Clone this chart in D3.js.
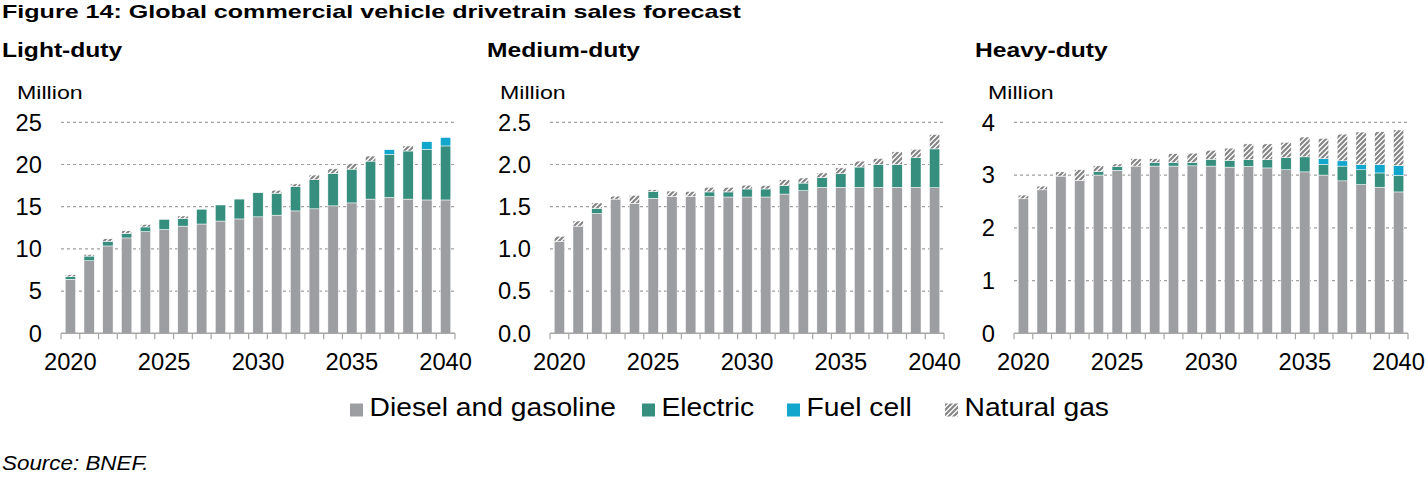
<!DOCTYPE html>
<html>
<head>
<meta charset="utf-8">
<script src="https://cdn.jsdelivr.net/npm/d3@7"></script>
<style>
  body { margin: 0; background: #fff; }
  text { font-family: "Liberation Sans", Arial, sans-serif; fill: #000; }
</style>
</head>
<body>
<div id="chart"></div>
<script>
// Years on the x axis
const years = d3.range(2020, 2041);
const tickYears = [2020, 2025, 2030, 2035, 2040];

// Light-duty (million)
const lightDiesel   = [6.4, 8.6, 10.35, 11.3, 12.05, 12.3, 12.7, 12.95, 13.3, 13.55, 13.8, 14.0, 14.5, 14.75, 15.1, 15.45, 15.9, 16.1, 15.9, 15.8, 15.8];
const lightElectric = [0.3, 0.55, 0.55, 0.55, 0.55, 1.2, 0.9, 1.75, 1.9, 2.35, 2.85, 2.6, 2.9, 3.45, 3.85, 4.0, 4.5, 5.1, 5.7, 6.0, 6.4];
const lightFuelCell = [0, 0, 0, 0, 0, 0, 0, 0, 0, 0, 0, 0, 0, 0, 0, 0, 0, 0.55, 0, 0.9, 1.0];
const lightGas      = [0.25, 0.2, 0.3, 0.3, 0.3, 0, 0.3, 0, 0, 0, 0, 0.35, 0.3, 0.55, 0.55, 0.65, 0.6, 0, 0.6, 0, 0];

// Medium-duty (million)
const mediumDiesel   = [1.09, 1.27, 1.42, 1.59, 1.54, 1.6, 1.62, 1.62, 1.62, 1.615, 1.615, 1.615, 1.65, 1.69, 1.73, 1.73, 1.73, 1.73, 1.73, 1.73, 1.725];
const mediumElectric = [0, 0, 0.06, 0, 0, 0.08, 0, 0, 0.055, 0.06, 0.095, 0.095, 0.1, 0.09, 0.115, 0.16, 0.24, 0.27, 0.27, 0.35, 0.46];
const mediumFuelCell = [0, 0, 0, 0, 0, 0, 0, 0, 0, 0, 0, 0, 0, 0, 0, 0, 0, 0, 0, 0, 0];
const mediumGas      = [0.06, 0.06, 0.065, 0.035, 0.095, 0.02, 0.065, 0.06, 0.055, 0.055, 0.045, 0.04, 0.07, 0.06, 0.055, 0.07, 0.07, 0.07, 0.15, 0.1, 0.17];

// Heavy-duty (million)
const heavyDiesel   = [2.55, 2.72, 2.98, 2.9, 3.0, 3.09, 3.17, 3.17, 3.17, 3.175, 3.17, 3.15, 3.165, 3.135, 3.1, 3.06, 3.0, 2.89, 2.82, 2.77, 2.68];
const heavyElectric = [0, 0, 0, 0, 0.065, 0.07, 0, 0.07, 0.07, 0.065, 0.13, 0.13, 0.125, 0.155, 0.23, 0.285, 0.205, 0.28, 0.28, 0.27, 0.315];
const heavyFuelCell = [0, 0, 0, 0, 0, 0, 0, 0, 0, 0, 0, 0, 0, 0, 0, 0, 0.105, 0.1, 0.095, 0.16, 0.185];
const heavyGas      = [0.07, 0.07, 0.08, 0.2, 0.11, 0.05, 0.14, 0.07, 0.165, 0.175, 0.17, 0.23, 0.3, 0.3, 0.29, 0.375, 0.385, 0.505, 0.62, 0.62, 0.675];

// Series, bottom to top
const seriesKeys = ["diesel", "electric", "fuelCell", "gas"];
const seriesLabels = ["Diesel and gasoline", "Electric", "Fuel cell", "Natural gas"];
const seriesColors = {
  diesel: "#9d9ea2",
  electric: "#358e7e",
  fuelCell: "#12a6cc",
  gas: "url(#hatch)"
};

const panels = [
  { title: "Light-duty", max: 25, ticks: [0, 5, 10, 15, 20, 25], fmt: d3.format("d"),
    series: [lightDiesel, lightElectric, lightFuelCell, lightGas],
    left: 61, right: 455, unitX: 17, titleX: 2 },
  { title: "Medium-duty", max: 2.5, ticks: [0, 0.5, 1, 1.5, 2, 2.5], fmt: d3.format(".1f"),
    series: [mediumDiesel, mediumElectric, mediumFuelCell, mediumGas],
    left: 550, right: 944, unitX: 500, titleX: 487 },
  { title: "Heavy-duty", max: 4, ticks: [0, 1, 2, 3, 4], fmt: d3.format("d"),
    series: [heavyDiesel, heavyElectric, heavyFuelCell, heavyGas],
    left: 1014, right: 1408, unitX: 988, titleX: 975 }
];

const W = 1428, H = 482;
const plotTop = 122.3, plotBottom = 333.3;

const svg = d3.select("#chart").append("svg")
  .attr("width", W)
  .attr("height", H);

// Widen text a little, the source figure uses a stretched Helvetica
function stretch(sel, k) {
  sel.each(function() {
    const w = this.getComputedTextLength();
    d3.select(this).attr("textLength", w * k).attr("lengthAdjust", "spacingAndGlyphs");
  });
}

// Hatch pattern for natural gas
const defs = svg.append("defs");
const hatch = defs.append("pattern")
  .attr("id", "hatch")
  .attr("patternUnits", "userSpaceOnUse")
  .attr("width", 5)
  .attr("height", 5);
hatch.append("rect").attr("width", 5).attr("height", 5).attr("fill", "#fff");
hatch.append("path")
  .attr("d", "M-1.25,1.25 l2.5,-2.5 M0,5 l5,-5 M3.75,6.25 l2.5,-2.5")
  .attr("stroke", "#858585")
  .attr("stroke-width", 2.2);

// Figure title
const title = svg.append("text")
  .attr("x", 2)
  .attr("y", 17.5)
  .attr("font-size", 19)
  .attr("font-weight", "bold")
  .text("Figure 14: Global commercial vehicle drivetrain sales forecast");
stretch(title, 1.32);

panels.forEach(p => {
  const g = svg.append("g");

  const rows = years.map((yr, i) => {
    const row = { year: yr };
    seriesKeys.forEach((k, j) => { row[k] = p.series[j][i]; });
    return row;
  });

  const stacked = d3.stack().keys(seriesKeys)(rows);

  const x = d3.scaleBand()
    .domain(years)
    .range([p.left, p.right])
    .paddingInner(0.45)
    .paddingOuter(0.225);

  const y = d3.scaleLinear()
    .domain([0, p.max])
    .range([plotBottom, plotTop]);

  // Gridlines
  g.selectAll("line.grid")
    .data(p.ticks.filter(t => t > 0))
    .join("line")
    .attr("x1", p.left)
    .attr("x2", p.right)
    .attr("y1", d => y(d))
    .attr("y2", d => y(d))
    .attr("stroke", "#a0a0a0")
    .attr("stroke-width", 1.2)
    .attr("stroke-dasharray", "3,3");

  // Y tick labels
  const yl = g.selectAll("text.ytick")
    .data(p.ticks)
    .join("text")
    .attr("x", p.left - 19)
    .attr("y", d => y(d))
    .attr("dy", "0.36em")
    .attr("text-anchor", "end")
    .attr("font-size", 23)
    .text(d => p.fmt(d));
  stretch(yl, 1.03);

  // Bars
  g.selectAll("g.layer")
    .data(stacked)
    .join("g")
    .attr("fill", d => seriesColors[d.key])
    .selectAll("rect")
    .data(d => d.filter(s => s[1] - s[0] > 0))
    .join("rect")
    .attr("x", d => x(d.data.year))
    .attr("y", d => y(d[1]))
    .attr("width", x.bandwidth())
    .attr("height", d => y(d[0]) - y(d[1]))
    .attr("stroke", "#fff")
    .attr("stroke-width", 0.5);

  // X axis line and ticks at category boundaries
  g.append("line")
    .attr("x1", p.left)
    .attr("x2", p.right)
    .attr("y1", plotBottom)
    .attr("y2", plotBottom)
    .attr("stroke", "#a6a6a6")
    .attr("stroke-width", 1.5);

  const bounds = years.map(yr => x(yr) - (x.step() - x.bandwidth()) / 2)
    .concat([p.right]);
  g.selectAll("line.xtick")
    .data(bounds)
    .join("line")
    .attr("x1", d => d)
    .attr("x2", d => d)
    .attr("y1", plotBottom)
    .attr("y2", plotBottom + 6)
    .attr("stroke", "#a6a6a6")
    .attr("stroke-width", 1.2);

  // X tick labels
  const xl = g.selectAll("text.xtick")
    .data(tickYears)
    .join("text")
    .attr("x", d => x(d) + x.bandwidth() / 2)
    .attr("y", 370)
    .attr("text-anchor", "middle")
    .attr("font-size", 23)
    .text(d => d);
  stretch(xl, 1.03);

  // Panel title and unit
  const t = g.append("text")
    .attr("x", p.titleX)
    .attr("y", 57)
    .attr("font-size", 20.5)
    .attr("font-weight", "bold")
    .text(p.title);
  stretch(t, 1.2);

  const u = g.append("text")
    .attr("x", p.unitX)
    .attr("y", 98.5)
    .attr("font-size", 19)
    .text("Million");
  stretch(u, 1.22);
});

// Legend
const legendItems = [
  { key: "diesel", label: seriesLabels[0], x: 350 },
  { key: "electric", label: seriesLabels[1], x: 642 },
  { key: "fuelCell", label: seriesLabels[2], x: 787 },
  { key: "gas", label: seriesLabels[3], x: 945 }
];

const legend = svg.append("g");
legend.selectAll("rect")
  .data(legendItems)
  .join("rect")
  .attr("x", d => d.x)
  .attr("y", 403.5)
  .attr("width", 13)
  .attr("height", 13)
  .attr("fill", d => seriesColors[d.key]);

const lt = legend.selectAll("text")
  .data(legendItems)
  .join("text")
  .attr("x", d => d.x + 19.5)
  .attr("y", 415.7)
  .attr("font-size", 25)
  .text(d => d.label);
stretch(lt, 1.13);

// Source note
const src = svg.append("text")
  .attr("x", 2)
  .attr("y", 470)
  .attr("font-size", 20)
  .attr("font-style", "italic")
  .text("Source: BNEF.");
stretch(src, 1.12);
</script>
</body>
</html>
